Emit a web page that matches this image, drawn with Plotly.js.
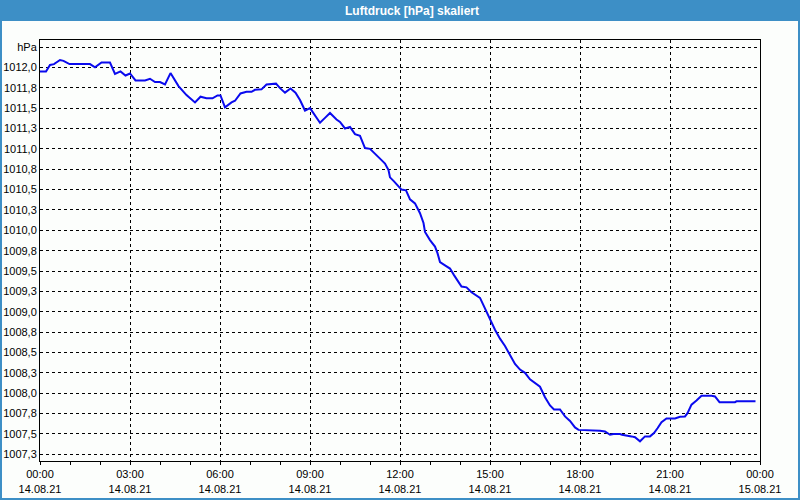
<!DOCTYPE html>
<html>
<head>
<meta charset="utf-8">
<script src="https://cdn.plot.ly/plotly-3.0.1.min.js"></script>
<style>html,body{margin:0;padding:0;background:#fcfefc;}#chart{width:800px;height:500px;}</style>
</head>
<body>
<div id="chart"></div>
<script>
const times = [
"2021-08-14 00:00","2021-08-14 00:12","2021-08-14 00:20","2021-08-14 00:28","2021-08-14 00:40","2021-08-14 00:47","2021-08-14 00:59","2021-08-14 01:10","2021-08-14 01:40","2021-08-14 01:50",
"2021-08-14 02:03","2021-08-14 02:20","2021-08-14 02:30","2021-08-14 02:41","2021-08-14 02:51","2021-08-14 03:00","2021-08-14 03:11","2021-08-14 03:30","2021-08-14 03:40","2021-08-14 03:50",
"2021-08-14 04:00","2021-08-14 04:10","2021-08-14 04:21","2021-08-14 04:37","2021-08-14 04:53","2021-08-14 05:10","2021-08-14 05:21","2021-08-14 05:33","2021-08-14 05:45","2021-08-14 05:55",
"2021-08-14 06:01","2021-08-14 06:10","2021-08-14 06:23","2021-08-14 06:30","2021-08-14 06:41","2021-08-14 06:53","2021-08-14 07:03","2021-08-14 07:10","2021-08-14 07:23","2021-08-14 07:33",
"2021-08-14 07:52","2021-08-14 08:00","2021-08-14 08:10","2021-08-14 08:21","2021-08-14 08:31","2021-08-14 08:40","2021-08-14 08:50","2021-08-14 09:00","2021-08-14 09:10","2021-08-14 09:20",
"2021-08-14 09:30","2021-08-14 09:40","2021-08-14 09:53","2021-08-14 10:00","2021-08-14 10:10","2021-08-14 10:20","2021-08-14 10:30","2021-08-14 10:40","2021-08-14 10:50","2021-08-14 11:00",
"2021-08-14 11:20","2021-08-14 11:30","2021-08-14 11:37","2021-08-14 11:40","2021-08-14 11:48","2021-08-14 11:57","2021-08-14 12:03","2021-08-14 12:12","2021-08-14 12:20","2021-08-14 12:30",
"2021-08-14 12:40","2021-08-14 12:47","2021-08-14 12:50","2021-08-14 13:00","2021-08-14 13:10","2021-08-14 13:15","2021-08-14 13:20","2021-08-14 13:30","2021-08-14 13:40","2021-08-14 13:48",
"2021-08-14 13:57","2021-08-14 14:03","2021-08-14 14:13","2021-08-14 14:23","2021-08-14 14:40","2021-08-14 14:50","2021-08-14 15:00","2021-08-14 15:10","2021-08-14 15:20","2021-08-14 15:30",
"2021-08-14 15:40","2021-08-14 15:50","2021-08-14 16:00","2021-08-14 16:10","2021-08-14 16:20","2021-08-14 16:30","2021-08-14 16:40","2021-08-14 16:50","2021-08-14 17:00","2021-08-14 17:08",
"2021-08-14 17:20","2021-08-14 17:30","2021-08-14 17:40","2021-08-14 17:50","2021-08-14 17:57","2021-08-14 18:40","2021-08-14 18:50","2021-08-14 19:00","2021-08-14 19:07","2021-08-14 19:20",
"2021-08-14 19:24","2021-08-14 19:43","2021-08-14 19:50","2021-08-14 20:00","2021-08-14 20:10","2021-08-14 20:20","2021-08-14 20:28","2021-08-14 20:35","2021-08-14 20:43","2021-08-14 20:53",
"2021-08-14 21:10","2021-08-14 21:20","2021-08-14 21:30","2021-08-14 21:35","2021-08-14 21:43","2021-08-14 21:53","2021-08-14 22:03","2021-08-14 22:23","2021-08-14 22:30","2021-08-14 22:39",
"2021-08-14 23:10","2021-08-14 23:13","2021-08-14 23:51"
];
const pressure = [
1011.95,1011.95,1012.03,1012.04,1012.09,1012.08,1012.04,1012.04,1012.04,1012.00,
1012.06,1012.06,1011.92,1011.95,1011.90,1011.925,1011.84,1011.84,1011.86,1011.82,
1011.82,1011.79,1011.93,1011.77,1011.66,1011.57,1011.64,1011.62,1011.62,1011.655,
1011.655,1011.51,1011.57,1011.59,1011.68,1011.70,1011.70,1011.725,1011.73,1011.79,
1011.80,1011.745,1011.69,1011.74,1011.69,1011.60,1011.47,1011.50,1011.405,1011.32,
1011.38,1011.44,1011.36,1011.33,1011.25,1011.27,1011.18,1011.16,1011.01,1011.00,
1010.88,1010.82,1010.74,1010.65,1010.60,1010.54,1010.50,1010.49,1010.38,1010.33,
1010.21,1010.09,1009.98,1009.88,1009.80,1009.72,1009.61,1009.57,1009.53,1009.45,
1009.36,1009.31,1009.30,1009.24,1009.17,1009.04,1008.895,1008.78,1008.67,1008.58,
1008.47,1008.36,1008.29,1008.25,1008.17,1008.12,1008.08,1007.95,1007.85,1007.80,
1007.80,1007.715,1007.66,1007.58,1007.55,1007.54,1007.53,1007.49,1007.50,1007.50,
1007.49,1007.47,1007.46,1007.41,1007.47,1007.47,1007.51,1007.57,1007.645,1007.69,
1007.69,1007.71,1007.715,1007.755,1007.86,1007.91,1007.97,1007.97,1007.96,1007.89,
1007.89,1007.90,1007.90
];
const yTickVals = [1007.25,1007.5,1007.75,1008.0,1008.25,1008.5,1008.75,1009.0,1009.25,1009.5,1009.75,1010.0,1010.25,1010.5,1010.75,1011.0,1011.25,1011.5,1011.75,1012.0,1012.25];
const yTickText = ["1007,3","1007,5","1007,8","1008,0","1008,3","1008,5","1008,8","1009,0","1009,3","1009,5","1009,8","1010,0","1010,3","1010,5","1010,8","1011,0","1011,3","1011,5","1011,8","1012,0","hPa"];
const xTickVals = ["2021-08-14 00:00","2021-08-14 03:00","2021-08-14 06:00","2021-08-14 09:00","2021-08-14 12:00","2021-08-14 15:00","2021-08-14 18:00","2021-08-14 21:00","2021-08-15 00:00"];
const xTickText = ["00:00<br>14.08.21","03:00<br>14.08.21","06:00<br>14.08.21","09:00<br>14.08.21","12:00<br>14.08.21","15:00<br>14.08.21","18:00<br>14.08.21","21:00<br>14.08.21","00:00<br>15.08.21"];
const titleText = "Luftdruck [hPa] skaliert";

const W = 800, H = 500, L = 40, R = 40, T = 40, B = 39;
const pw = W - L - R, ph = H - T - B;
const px = v => (v - L) / pw;
const py = v => (H - B - v) / ph;

const trace = {
  type: 'scatter', mode: 'lines', x: times, y: pressure,
  line: {color: '#0a0aee', width: 2}, hoverinfo: 'skip'
};

const layout = {
  width: W, height: H,
  margin: {l: L, r: R, t: T, b: B, pad: 0},
  paper_bgcolor: '#fcfefc', plot_bgcolor: '#fcfefc',
  showlegend: false,
  font: {family: 'Liberation Sans, Arial, sans-serif', size: 11, color: '#000'},
  xaxis: {
    type: 'date', range: ['2021-08-14 00:00', '2021-08-15 00:00'],
    tickmode: 'array', tickvals: xTickVals, ticktext: xTickText,
    ticks: 'outside', ticklen: 3, tickcolor: '#000', tickwidth: 1,
    minor: {dtick: 3600000, ticks: 'outside', ticklen: 3, tickcolor: '#000', showgrid: false},
    showgrid: true, gridcolor: '#000', gridwidth: 1, griddash: '3px,3px',
    showline: true, linecolor: '#000', linewidth: 1, mirror: true,
    zeroline: false, fixedrange: true,
    tickfont: {size: 11, color: '#000'}
  },
  yaxis: {
    range: [1007.168, 1012.336],
    tickmode: 'array', tickvals: yTickVals, ticktext: yTickText,
    ticks: '', showgrid: true, gridcolor: '#000', gridwidth: 1, griddash: '3px,3px',
    showline: true, linecolor: '#000', linewidth: 1, mirror: true,
    zeroline: false, fixedrange: true,
    tickfont: {size: 11, color: '#000'}
  },
  shapes: [
    {type: 'rect', xref: 'paper', yref: 'paper', layer: 'below',
     x0: px(0), x1: px(800), y0: py(21), y1: py(0),
     fillcolor: '#3d8fc6', line: {width: 0}},
    {type: 'rect', xref: 'paper', yref: 'paper', layer: 'below',
     x0: px(1), x1: px(799), y0: py(499), y1: py(20),
     fillcolor: 'rgba(0,0,0,0)', line: {color: '#3d8fc6', width: 2}}
  ],
  annotations: [
    {xref: 'paper', yref: 'paper', x: px(412), y: py(10.5), xanchor: 'center', yanchor: 'middle',
     text: titleText, showarrow: false,
     font: {family: 'Liberation Sans, Arial, sans-serif', size: 12, color: '#ffffff', weight: 'bold'}}
  ]
};

Plotly.newPlot('chart', [trace], layout, {staticPlot: true, displayModeBar: false});
</script>
</body>
</html>
